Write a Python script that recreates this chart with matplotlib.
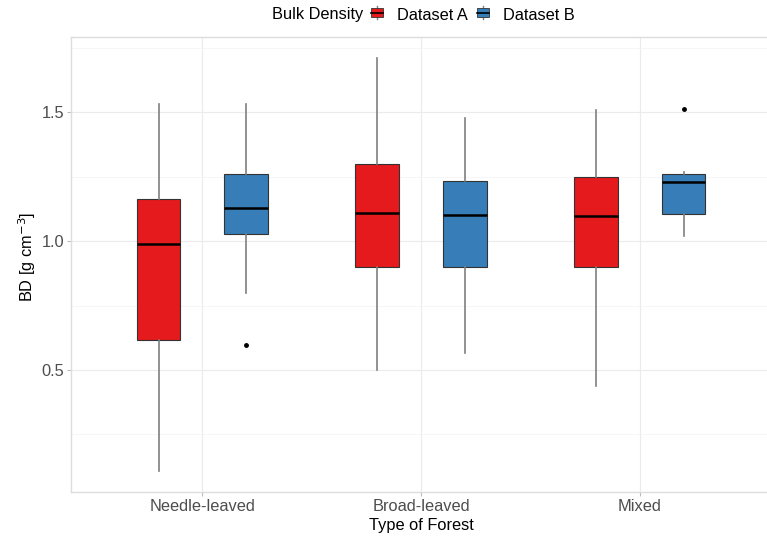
import matplotlib
matplotlib.use("Agg")
import matplotlib.pyplot as plt
from matplotlib.legend_handler import HandlerBase
from matplotlib.patches import Rectangle
from matplotlib.lines import Line2D

plt.rcParams['font.family'] = ['Liberation Sans', 'DejaVu Sans']

forests = ["Needle-leaved", "Broad-leaved", "Mixed"]
datasets = ["Dataset A", "Dataset B"]
colors = ["#E41A1C", "#377EB8"]

# five-number summaries per forest type: low whisker, q1, median, q3, high whisker
stats_a = {
    "whislo": [0.108, 0.499, 0.438],
    "q1":     [0.618, 0.898, 0.898],
    "med":    [0.988, 1.110, 1.098],
    "q3":     [1.162, 1.300, 1.250],
    "whishi": [1.531, 1.710, 1.509],
}
stats_b = {
    "whislo": [0.800, 0.567, 1.021],
    "q1":     [1.028, 0.898, 1.104],
    "med":    [1.129, 1.101, 1.230],
    "q3":     [1.259, 1.234, 1.259],
    "whishi": [1.531, 1.479, 1.269],
}
outliers_a = [[], [], []]
outliers_b = [[0.596], [], [1.512]]

FS = 11.8


def to_bxp(stats, fliers):
    out = []
    for i in range(len(forests)):
        d = {k: stats[k][i] for k in stats}
        d["fliers"] = fliers[i]
        out.append(d)
    return out


fig = plt.figure(figsize=(7.67, 5.39), dpi=100)
ax = fig.add_axes([71 / 767, 47.3 / 539, 700 / 767, 454.7 / 539])

ax.set_xlim(0.4, 3.6)
ax.set_ylim(0.028, 1.792)

ax.set_yticks([0.5, 1.0, 1.5])
ax.set_yticks([0.25, 0.75, 1.25, 1.75], minor=True)
ax.grid(which="major", color="#EBEBEB", linewidth=0.8)
ax.grid(which="minor", axis="y", color="#F3F3F3", linewidth=0.5)
ax.set_axisbelow(True)
for sp in ax.spines.values():
    sp.set_color("#DDDDDD")
    sp.set_linewidth(1.0)

offsets = [-0.2, 0.2]
for stats, fliers, off, col in zip([stats_a, stats_b], [outliers_a, outliers_b],
                                   offsets, colors):
    ax.bxp(to_bxp(stats, fliers),
           positions=[p + off for p in (1, 2, 3)],
           widths=0.2, patch_artist=True, showcaps=False,
           boxprops=dict(facecolor=col, edgecolor="#333333", linewidth=0.8),
           whiskerprops=dict(color="#7F7F7F", linewidth=1.2),
           medianprops=dict(color="black", linewidth=1.8),
           flierprops=dict(marker="o", markerfacecolor="black",
                           markeredgecolor="black", markersize=2.5))

ax.set_xticks([1, 2, 3])
ax.set_xticklabels(forests)
ax.tick_params(axis="both", which="major", length=3, color="#BBBBBB",
               labelsize=FS, labelcolor="#4D4D4D", pad=2)
ax.tick_params(axis="y", which="minor", length=0)
ax.set_xlabel("Type of Forest", fontsize=FS, labelpad=3)
ax.set_ylabel("BD [g cm$^{-3}$]", fontsize=FS)
ax.yaxis.set_label_coords(-0.047, 0.516)


class BoxKey(HandlerBase):
    def create_artists(self, legend, orig, xd, yd, w, h, fontsize, trans):
        cx = xd + w / 2
        bw = w * 0.7
        bh = h * 0.7
        y0 = yd + (h - bh) / 2
        wl = Line2D([cx, cx], [yd, yd + h], color="#7F7F7F",
                    linewidth=1.0, transform=trans)
        rect = Rectangle((cx - bw / 2, y0), bw, bh,
                         facecolor=orig.get_facecolor(), edgecolor="#333333",
                         linewidth=0.6, transform=trans)
        med = Line2D([cx - bw / 2, cx + bw / 2], [yd + h / 2, yd + h / 2],
                     color="black", linewidth=1.2, transform=trans)
        return [wl, rect, med]


handles = [Rectangle((0, 0), 1, 1, facecolor=c) for c in colors]
fig.text(272 / 767, 1 - 15 / 539, "Bulk Density", fontsize=FS,
         ha="left", va="center")
fig.legend(handles, datasets, handler_map={Rectangle: BoxKey()},
           loc="center left", bbox_to_anchor=(369 / 767, 1 - 15 / 539),
           ncol=2, frameon=False, fontsize=FS, handlelength=1.0,
           handleheight=0.8, handletextpad=0.7, columnspacing=0.45,
           borderpad=0, borderaxespad=0)

fig.savefig("out.png", dpi=100)
